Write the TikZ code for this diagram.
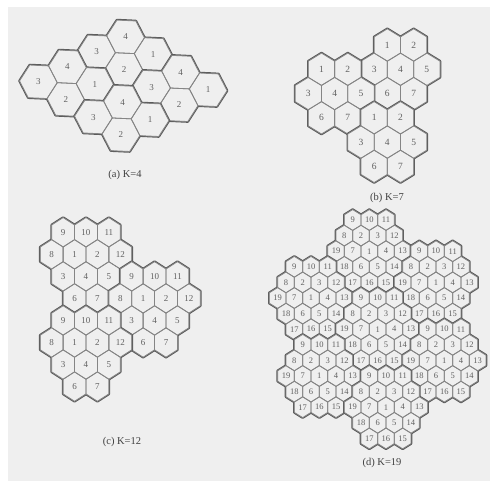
\documentclass[tikz,border=0pt]{standalone}
\usepackage{fontspec}
\setmainfont{Liberation Serif}
\definecolor{bg}{HTML}{EFEFEF}
\definecolor{edgethin}{HTML}{858585}
\definecolor{edgethick}{HTML}{5A5A5A}
\definecolor{txt}{HTML}{606060}
\tikzset{
  clthick/.style={draw=edgethick, line width=2.6pt, line join=round},
  clfill/.style={fill=bg},
  clthin/.style={draw=edgethin, line width=0.8pt, line join=round},
  lab/.style={text=txt, inner sep=0pt},
  captext/.style={text=black!75, font=\fontsize{10.5}{12}\selectfont, inner sep=0pt}
}
% pointy-top hexagon around (#1,#2), half width \hx, radius \ry
\newcommand\PHex[2]{(#1+\hx,#2-\ry/2) -- (#1+\hx,#2+\ry/2) -- (#1,#2+\ry) -- (#1-\hx,#2+\ry/2) -- (#1-\hx,#2-\ry/2) -- (#1,#2-\ry) -- cycle}
% flat-top hexagon around (#1,#2), radius \rx, half height \hy
\newcommand\FHex[2]{(#1+\rx,#2) -- (#1+\rx/2,#2+\hy) -- (#1-\rx/2,#2+\hy) -- (#1-\rx,#2) -- (#1-\rx/2,#2-\hy) -- (#1+\rx/2,#2-\hy) -- cycle}
% pointy cluster: #1 id, #2 row, #3 half-column, #4 list macro dr/dk/label
\newcommand\PCluster[4]{%
  \foreach \dr/\dk/\lab in #4{%
    \pgfmathsetmacro\cx{\xo+\hs*((#3)+(\dk))}%
    \pgfmathsetmacro\cy{\yo+\vp*((#2)+(\dr))}%
    \path[clthick] \PHex{\cx}{\cy};}
  \foreach \dr/\dk/\lab in #4{%
    \pgfmathsetmacro\cx{\xo+\hs*((#3)+(\dk))}%
    \pgfmathsetmacro\cy{\yo+\vp*((#2)+(\dr))}%
    \path[clfill] \PHex{\cx}{\cy};}
  \foreach \dr/\dk/\lab in #4{%
    \pgfmathsetmacro\cx{\xo+\hs*((#3)+(\dk))}%
    \pgfmathsetmacro\cy{\yo+\vp*((#2)+(\dr))}%
    \path[clthin] \PHex{\cx}{\cy};
    \node[lab] (#1-\lab) at (\cx,\cy) {\lab};}
}
% flat cluster: #1 id, #2 column, #3 half-row, #4 list macro dc/dm/label
\newcommand\FCluster[4]{%
  \foreach \dc/\dm/\lab in #4{%
    \pgfmathsetmacro\cx{\xo+\cs*((#2)+(\dc))}%
    \pgfmathsetmacro\cy{\yo+\hy*((#3)+(\dm))}%
    \path[clthick] \FHex{\cx}{\cy};}
  \foreach \dc/\dm/\lab in #4{%
    \pgfmathsetmacro\cx{\xo+\cs*((#2)+(\dc))}%
    \pgfmathsetmacro\cy{\yo+\hy*((#3)+(\dm))}%
    \path[clfill] \FHex{\cx}{\cy};}
  \foreach \dc/\dm/\lab in #4{%
    \pgfmathsetmacro\cx{\xo+\cs*((#2)+(\dc))}%
    \pgfmathsetmacro\cy{\yo+\hy*((#3)+(\dm))}%
    \path[clthin] \FHex{\cx}{\cy};
    \node[lab] (#1-\lab) at (\cx,\cy) {\lab};}
}
\begin{document}
\begin{tikzpicture}[x=1pt,y=-1pt]
\useasboundingbox (0,0) rectangle (490,481);
\fill[white] (0,0) rectangle (490,481);
\fill[bg] (8,7) rectangle (490,481);

% ---------- (a) K=4 ----------
\begin{scope}[rotate around={-2.7:(123.3,85.8)}, lab/.append style={font=\fontsize{9}{10}\selectfont}]
\def\xo{38.3}\def\cs{28.33}\def\yo{36.8}\def\hy{16.33}\def\rx{18.9}
\def\Kfour{0/0/4, -1/1/3, 1/1/1, 0/2/2}
\FCluster{a1}{3}{0}{\Kfour}
\FCluster{a2}{1}{2}{\Kfour}
\FCluster{a3}{5}{2}{\Kfour}
\FCluster{a4}{3}{4}{\Kfour}
\end{scope}
\node[captext] (capa) at (125,175) {(a) K=4};

% ---------- (b) K=7 ----------
\begin{scope}[lab/.append style={font=\fontsize{9.5}{10}\selectfont}]
\def\xo{308.3}\def\hs{13.17}\def\yo{45}\def\vp{24.27}\def\hx{13.17}\def\ry{16.18}
\def\Kseven{-1/-1/1, -1/1/2, 0/-2/3, 0/0/4, 0/2/5, 1/-1/6, 1/1/7}
\PCluster{b1}{1}{7}{\Kseven}
\PCluster{b2}{2}{2}{\Kseven}
\PCluster{b3}{4}{6}{\Kseven}
\end{scope}
\node[captext] (capb) at (387,198) {(b) K=7};

% ---------- (c) K=12 ----------
\begin{scope}[lab/.append style={font=\fontsize{9}{10}\selectfont}]
\def\xo{51.7}\def\hs{11.43}\def\yo{232.3}\def\vp{22.04}\def\hx{11.43}\def\ry{14.69}
\def\Ktwelve{-1/-1/9, -1/1/10, -1/3/11, 0/-2/8, 0/0/1, 0/2/2, 0/4/12, 1/-1/3, 1/1/4, 1/3/5, 2/0/6, 2/2/7}
\PCluster{c1}{1}{2}{\Ktwelve}
\PCluster{c2}{3}{8}{\Ktwelve}
\PCluster{c3}{5}{2}{\Ktwelve}
\end{scope}
\node[captext] (capc) at (122,442) {(c) K=12};

% ---------- (d) K=19 ----------
\begin{scope}[lab/.append style={font=\fontsize{8.5}{9}\selectfont}]
\def\xo{261}\def\hs{8.333}\def\yo{220}\def\vp{15.6}\def\hx{8.333}\def\ry{10.4}
\def\Knineteen{-2/-2/9, -2/0/10, -2/2/11, -1/-3/8, -1/-1/2, -1/1/3, -1/3/12, 0/-4/19, 0/-2/7, 0/0/1, 0/2/4, 0/4/13, 1/-3/18, 1/-1/6, 1/1/5, 1/3/14, 2/-2/17, 2/0/16, 2/2/15}
\PCluster{d1}{2}{13}{\Knineteen}
\PCluster{d2}{4}{21}{\Knineteen}
\PCluster{d3}{5}{6}{\Knineteen}
\PCluster{d4}{7}{14}{\Knineteen}
\PCluster{d5}{9}{22}{\Knineteen}
\PCluster{d6}{10}{7}{\Knineteen}
\PCluster{d7}{12}{15}{\Knineteen}
\end{scope}
\node[captext] (capd) at (382,463) {(d) K=19};
\end{tikzpicture}
\end{document}
